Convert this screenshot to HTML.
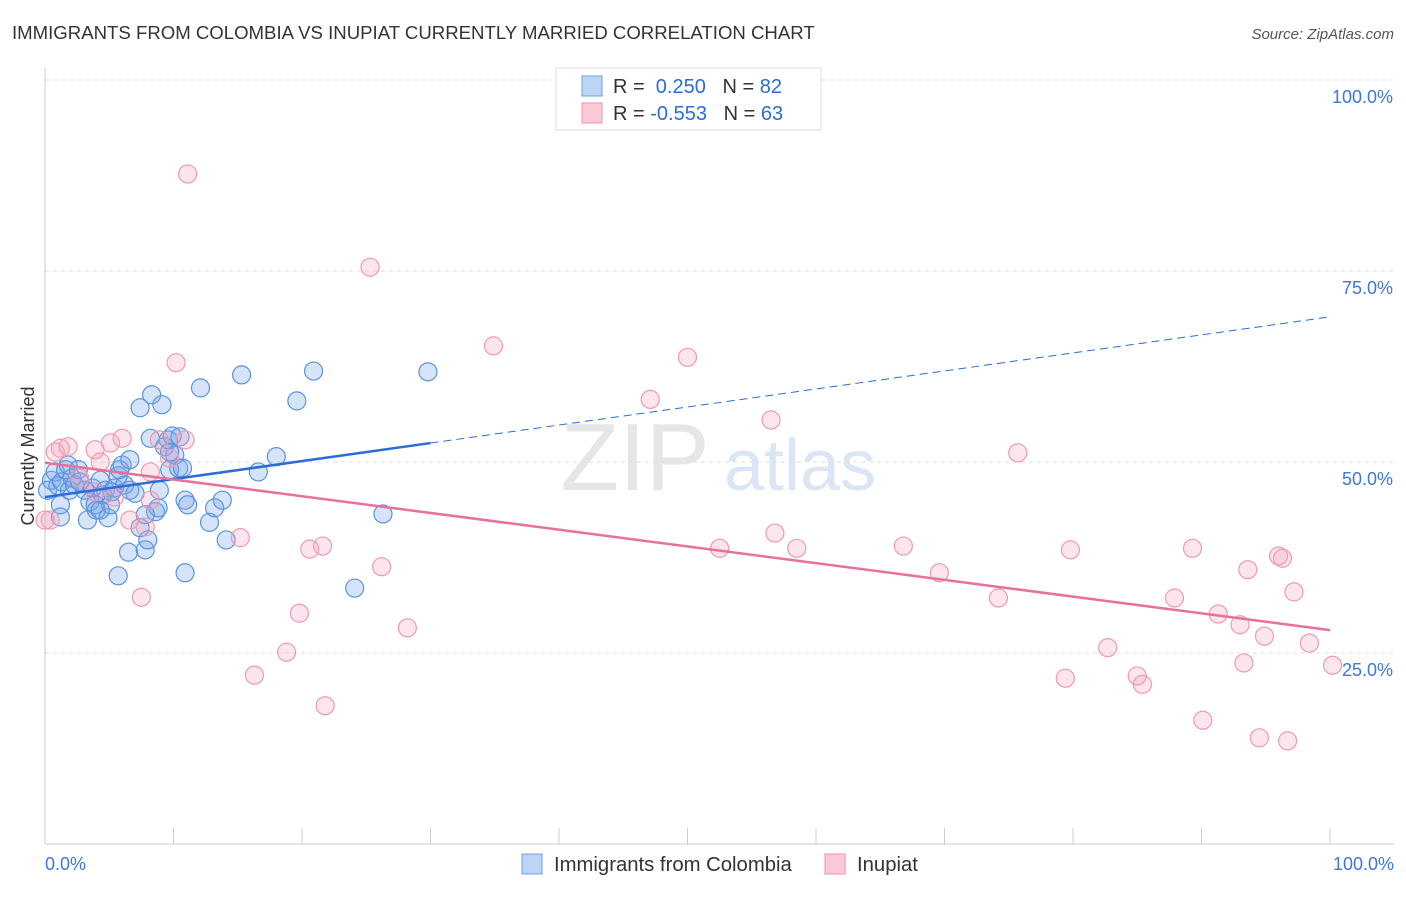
<!DOCTYPE html>
<html><head><meta charset="utf-8"><style>
body{margin:0;background:#fff;font-family:"Liberation Sans",sans-serif}
svg text{font-family:"Liberation Sans",sans-serif}
</style></head><body>
<svg id="c" width="1406" height="892">
<text x="12" y="39" font-size="18.6" fill="#333">IMMIGRANTS FROM COLOMBIA VS INUPIAT CURRENTLY MARRIED CORRELATION CHART</text>
<text x="1394" y="39" font-size="15" fill="#555" text-anchor="end" font-style="italic">Source: ZipAtlas.com</text>
<text x="635" y="490" font-size="96" fill="#e6e6e6" font-family="Liberation Serif" text-anchor="middle">ZIP</text>
<text x="800" y="490" font-size="72" fill="#dbe6f4" text-anchor="middle">atlas</text>
<text transform="translate(34,456) rotate(-90)" font-size="18" fill="#333" text-anchor="middle">Currently Married</text>
<g id="grid"></g><g id="pts"></g><g id="lines"></g>
<g>
<rect x="556" y="68" width="265" height="62" fill="#fff" stroke="#ddd"/>
<rect x="582" y="76" width="20" height="20" fill="#bcd4f5" stroke="#6fa0e6"/>
<rect x="582" y="103" width="20" height="20" fill="#fbc8d6" stroke="#ee92ad"/>
<text x="613" y="93" font-size="20" fill="#333">R = <tspan fill="#2a6dd8">&#160;0.250</tspan>&#160;&#160;&#160;N = <tspan fill="#2a6dd8">82</tspan></text>
<text x="613" y="120" font-size="20" fill="#333">R = <tspan fill="#2a6dd8">-0.553</tspan>&#160;&#160;&#160;N = <tspan fill="#2a6dd8">63</tspan></text>
</g>
<g>
<rect x="522" y="854" width="20" height="20" fill="#bcd4f5" stroke="#6fa0e6"/>
<text x="554" y="871" font-size="20.3" fill="#333">Immigrants from Colombia</text>
<rect x="825" y="854" width="20" height="20" fill="#fbc8d6" stroke="#ee92ad"/>
<text x="857" y="871" font-size="20.3" fill="#333">Inupiat</text>
</g>
<text x="45" y="870" font-size="18" fill="#3b78d8">0.0%</text>
<text x="1394" y="870" font-size="18" fill="#3b78d8" text-anchor="end">100.0%</text>
</svg>
<script>
const blueX=[0.2,0.5,0.8,1.0,1.2,1.3,1.6,1.8,1.9,2.1,2.3,2.6,2.7,3.1,3.3,3.5,3.7,3.9,4.0,4.3,4.5,4.7,4.9,5.1,5.2,5.4,5.7,5.8,6.0,6.2,6.5,6.6,7.0,7.4,7.4,7.8,8.0,8.2,8.3,8.6,8.8,8.9,9.1,9.3,9.6,9.7,9.9,10.1,10.4,10.5,10.7,10.9,10.9,11.1,12.1,12.8,13.2,13.8,14.1,15.3,16.6,18.0,19.6,20.9,24.1,26.3,29.8,5.7,1.2,4.3,6.6,7.8,9.7];
const blueY=[46.3,47.6,48.7,46.9,44.4,47.4,49.0,49.6,46.3,47.9,47.0,49.0,47.4,46.3,42.4,44.8,46.6,44.4,43.7,47.6,45.7,46.3,42.7,44.4,46.1,46.6,48.2,49.0,49.6,47.0,38.2,50.3,45.9,57.1,41.4,38.5,39.8,53.1,58.8,43.5,44.0,46.3,57.5,52.0,52.9,49.0,53.4,50.9,49.2,53.3,49.2,35.5,45.0,44.4,59.7,42.1,44.0,45.0,39.8,61.4,48.7,50.7,58.0,61.9,33.5,43.2,61.8,35.1,42.8,43.7,46.3,43.1,51.3];
const pinkX=[0.8,0.4,1.8,2.7,3.9,4.3,5.1,6.0,6.6,7.5,7.8,8.2,8.9,9.7,10.2,10.9,11.1,15.2,16.3,18.8,19.8,20.6,21.6,21.8,25.3,26.2,28.2,34.9,47.1,50.0,52.5,56.5,56.8,58.5,66.8,69.6,74.2,75.7,79.4,79.8,82.7,85.0,85.4,87.9,89.3,90.1,91.3,93.0,93.3,93.6,94.5,94.9,96.0,96.3,96.7,97.2,98.4,100.2,0,1.2,5.4,8.2,3.9];
const pinkY=[51.3,42.4,52.0,47.9,51.6,50.0,52.5,53.1,42.4,32.3,41.5,48.7,52.9,50.5,63.0,52.9,87.7,40.1,22.1,25.1,30.2,38.6,39.0,18.1,75.5,36.3,28.3,65.2,58.2,63.7,38.7,55.5,40.7,38.7,39.0,35.5,32.2,51.2,21.7,38.5,25.7,22.0,20.9,32.2,38.7,16.2,30.1,28.7,23.7,35.9,13.9,27.2,37.7,37.4,13.5,33.0,26.3,23.4,42.4,51.8,45.4,45.0,46.1];
const blueTrend=[45.4,69.0]; const blueSolidEnd=30;
const pinkTrend=[49.9,28.0];
const yTicks=[25,50,75,100];
const xTicks=[0,10,20,30,40,50,60,70,80,90,100];
const NS='http://www.w3.org/2000/svg';
const X=v=>45+v*12.85, Y=v=>844-v*7.64;
function mk(t,a,p){const e=document.createElementNS(NS,t);for(const k in a)e.setAttribute(k,a[k]);p.appendChild(e);return e;}
const g=document.getElementById('grid');
yTicks.forEach(t=>{
 const l=mk('line',{x1:45,x2:1394,y1:Y(t),y2:Y(t),stroke:'#ddd','stroke-dasharray':'4,4'},g);
 
 
 const tx=mk('text',{x:1393,y:Y(t)+23,'font-size':18,fill:'#3b78d8','text-anchor':'end'},g);
 tx.textContent=t.toFixed(1)+'%';
 
 
});
const ax=mk('line',{x1:45,x2:45,y1:68,y2:844,stroke:'#ccc'},g);


const bx=mk('line',{x1:45,x2:1394,y1:844,y2:844,stroke:'#ccc'},g);


xTicks.forEach(t=>{
 const l=mk('line',{x1:X(t),x2:X(t),y1:828,y2:844,stroke:'#ccc'},g);
 
 
});
const p=document.getElementById('pts');
blueX.forEach((v,i)=>{
 const c=mk('circle',{cx:X(v),cy:Y(blueY[i]),r:9,fill:'rgba(120,165,235,0.3)',stroke:'#5b93e0','stroke-width':1.2},p);
 
 
});
pinkX.forEach((v,i)=>{
 const c=mk('circle',{cx:X(v),cy:Y(pinkY[i]),r:9,fill:'rgba(245,160,185,0.28)',stroke:'#ee9ab3','stroke-width':1.2},p);
 
 
});
const L=document.getElementById('lines');
const by=x=>blueTrend[0]+(blueTrend[1]-blueTrend[0])*x/100;
const b1=mk('line',{x1:X(0),y1:Y(by(0)),x2:X(blueSolidEnd),y2:Y(by(blueSolidEnd)),stroke:'#2a6dd8','stroke-width':2.5},L);


const b2=mk('line',{x1:X(blueSolidEnd),y1:Y(by(blueSolidEnd)),x2:X(100),y2:Y(by(100)),stroke:'#2a6dd8','stroke-width':1,'stroke-dasharray':'8,5'},L);


const p1=mk('line',{x1:X(0),y1:Y(pinkTrend[0]),x2:X(100),y2:Y(pinkTrend[1]),stroke:'#e8709a','stroke-width':2.5},L);


</script>
</body></html>
